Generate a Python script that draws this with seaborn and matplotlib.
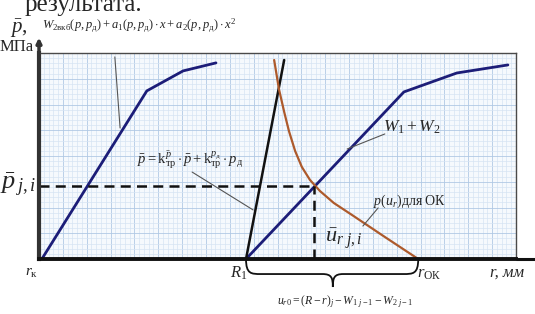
import numpy as np
import matplotlib
matplotlib.use("Agg")
import matplotlib.pyplot as plt
from matplotlib.path import Path
from matplotlib.patches import PathPatch
import seaborn as sns

# ---------------------------------------------------------------------------
# data (x in conventional r-units 0..100, y in MPa 0..100)
w2_x = [0.6, 22.6, 30.2, 37.1]
w2_y = [0.0, 81.6, 91.3, 95.2]

fric_x = [43.4, 51.4]
fric_y = [0.0, 96.6]

w12_x = [43.4, 76.5, 87.6, 98.3]
w12_y = [0.0, 81.1, 90.3, 94.2]

ok_x = [49.3, 50.3, 51.4, 52.4, 53.7, 55.1, 56.8, 58.9, 61.8, 65.6, 72.5, 79.5]
ok_y = [96.6, 82.5, 71.4, 62.1, 52.4, 44.7, 38.4, 33.0, 27.2, 21.4, 10.7, 0.0]

p_ji = 35.3      # level of the dashed line
u_ji = 57.7      # crossing of W1+W2 and p(u_r)
R1 = 43.4
r_ok = 79.5

# thin leader lines (start, end)
leaders = [((15.9, 98.1), (17.0, 63.6)),
           ((32.1, 42.2), (44.9, 23.8)),
           ((72.5, 60.7), (64.6, 53.4)),
           ((71.1, 24.8), (67.9, 16.0))]

# ---------------------------------------------------------------------------
sns.set_style("white")
plt.rcParams['font.family'] = ['Liberation Serif', 'DejaVu Serif']
plt.rcParams['mathtext.fontset'] = 'custom'
plt.rcParams['mathtext.rm'] = 'Liberation Serif'
plt.rcParams['mathtext.it'] = 'Liberation Serif:italic'
plt.rcParams['mathtext.bf'] = 'Liberation Serif:bold'

W, H = 535, 314
fig = plt.figure(figsize=(W / 100, H / 100), dpi=100)
ax = fig.add_axes([39 / W, 1 - 259 / H, (516 - 39) / W, (259 - 53) / H])

def fx(px):
    return px / W

def fy(py):
    return 1 - py / H

# grid paper background
ax.set_facecolor('#f5f9fd')
ax.set_xlim(0, 100)
ax.set_ylim(0, 100)
ax.set_xticks(np.arange(0, 101, 5))
ax.set_yticks(np.arange(0, 101, 12.5))
ax.set_xticks(np.arange(0, 101, 1), minor=True)
ax.set_yticks(np.arange(0, 101, 2.5), minor=True)
ax.grid(which='minor', color='#d6e4f3', lw=0.5)
ax.grid(which='major', color='#b0c8e4', lw=0.6)
ax.tick_params(which='both', length=0, labelbottom=False, labelleft=False)
ax.set_axisbelow(True)

for s in ['top', 'right']:
    ax.spines[s].set_color('#4a4a4a')
    ax.spines[s].set_linewidth(1.0)
ax.spines['left'].set_color('#333333')
ax.spines['left'].set_linewidth(3)
ax.spines['bottom'].set_color('#111111')
ax.spines['bottom'].set_linewidth(2.8)

# axes beyond the frame
ax.annotate('', xy=(0, 1.075), xytext=(0, 0.99), xycoords='axes fraction',
            arrowprops=dict(arrowstyle='-|>', lw=2.5, color='#333333', mutation_scale=7,
                            shrinkA=0, shrinkB=0), annotation_clip=False)
ax.plot([1.0, 1.045], [0, 0], transform=ax.transAxes, color='#111111', lw=2.2,
        clip_on=False, solid_capstyle='butt')

# curves
navy = '#1c1d78'
sns.lineplot(x=w2_x, y=w2_y, ax=ax, color=navy, lw=2, sort=False)
sns.lineplot(x=w12_x, y=w12_y, ax=ax, color=navy, lw=2, sort=False)
sns.lineplot(x=fric_x, y=fric_y, ax=ax, color='#111111', lw=1.8, sort=False)
sns.lineplot(x=ok_x, y=ok_y, ax=ax, color='#ad5a2c', lw=1.6, sort=False)

# dashed lines to the working point
ax.plot([0, u_ji], [p_ji, p_ji], color='#111111', lw=1.8, ls=(0, (4, 2.5)))
ax.plot([u_ji, u_ji], [0, p_ji], color='#111111', lw=1.8, ls=(0, (4, 2.5)))

for (a, b) in leaders:
    ax.plot([a[0], b[0]], [a[1], b[1]], color='#555555', lw=0.8, clip_on=False)

# brace under the x-axis from R1 to r_OK
tip = 61.6
yb, yt = -7.3, -13.6
verts = [(R1, 0), (R1, yb), (R1 + 1.1, yb), (R1 + 3.1, yb),
         (tip - 2.2, yb),
         (tip - 0.3, yb), (tip, yb - 1.7), (tip, yt),
         (tip, yb - 1.7), (tip + 0.3, yb), (tip + 2.2, yb),
         (r_ok - 3.1, yb),
         (r_ok - 1.1, yb), (r_ok, yb), (r_ok, 0)]
codes = [Path.MOVETO, Path.CURVE4, Path.CURVE4, Path.CURVE4,
         Path.LINETO,
         Path.CURVE4, Path.CURVE4, Path.CURVE4,
         Path.CURVE4, Path.CURVE4, Path.CURVE4,
         Path.LINETO,
         Path.CURVE4, Path.CURVE4, Path.CURVE4]
ax.add_patch(PathPatch(Path(verts, codes), fill=False, lw=1.3, color='#111111', clip_on=False))

# texts
fig.text(fx(25), fy(11), 'результата.', fontsize=18, va='baseline', ha='left')
fig.text(fx(10), fy(29), r'$\bar{p}$,', fontsize=15, va='center', ha='left')
fig.text(fx(0), fy(51), 'МПа', fontsize=12, va='baseline', ha='left')
fig.text(fx(42), fy(26),
         r'$W_{2\mathrm{вкб}}(p,p_{\mathrm{д}})+a_1(p,p_{\mathrm{д}})\cdot x+a_2(p,p_{\mathrm{д}})\cdot x^2$',
         fontsize=9, va='center', ha='left')
fig.text(fx(0), fy(185), r'$\bar{p}_{\,j,i}$', fontsize=19, va='center', ha='left')
fig.text(fx(137), fy(160),
         r'$\bar{p}=\mathrm{k}_{\mathrm{тр}}^{\bar{p}}\cdot\bar{p}+\mathrm{k}_{\mathrm{тр}}^{p_{\mathrm{д}}}\cdot p_{\mathrm{д}}$',
         fontsize=10.5, va='center', ha='left')
fig.text(fx(383), fy(127), r'$W_1+W_2$', fontsize=12.5, va='center', ha='left')
fig.text(fx(373), fy(201), r'$p(u_r)$для ОК', fontsize=10, va='center', ha='left')
fig.text(fx(325), fy(239), r'$\bar{u}_{r\ j,i}$', fontsize=16, va='center', ha='left')
fig.text(fx(25), fy(273), r'$r_{\mathrm{к}}$', fontsize=11, va='center', ha='left')
fig.text(fx(230), fy(273), r'$R_1$', fontsize=12, va='center', ha='left')
fig.text(fx(417), fy(274), r'$r_{\mathrm{ОК}}$', fontsize=12, va='center', ha='left')
fig.text(fx(490), fy(273), 'r, мм', fontsize=12, style='italic', va='center', ha='left')
fig.text(fx(277), fy(302),
         r'$u_{r0}=(R-r)_j-W_{1\ j-1}-W_{2\ j-1}$',
         fontsize=8.5, va='center', ha='left')

fig.savefig('out.png', dpi=100)
